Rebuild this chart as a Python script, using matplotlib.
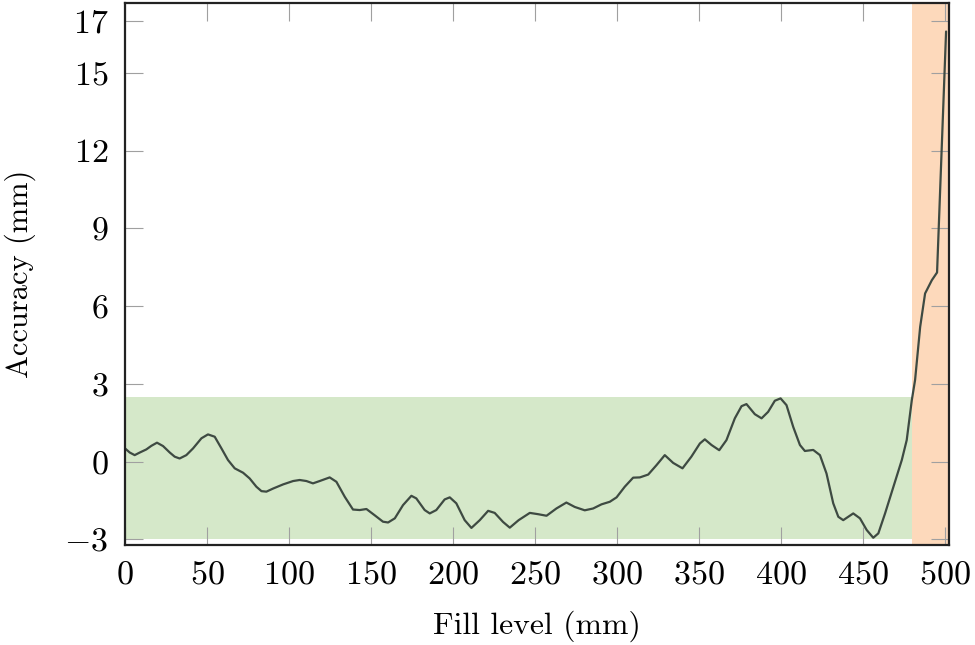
import matplotlib.pyplot as plt

plt.rcParams['font.family'] = 'serif'
plt.rcParams['font.serif'] = ['cmr10', 'DejaVu Serif']
plt.rcParams['mathtext.fontset'] = 'cm'
plt.rcParams['axes.formatter.use_mathtext'] = True

# accuracy curve
fill = [0, 2.9, 5.9, 9, 13, 16.1, 19.5, 23.2, 27.3, 30.3, 33.3, 37.4, 41.5, 46.6,
        50.6, 54.7, 58.8, 62.8, 66.9, 72, 76, 80.1, 83.2, 86.2, 90.3, 96.4, 102.5,
        106.5, 110.6, 114.6, 118.7, 124.8, 128.9, 134, 139, 143.1, 147.2, 152.2,
        157.3, 160.4, 164.5, 169.5, 174.6, 177.6, 182.7, 185.8, 189.8, 194.9, 198,
        202, 207.1, 211.2, 216.3, 221.4, 225.4, 230.5, 234.6, 240, 246.8, 251.9,
        257, 263, 269.1, 274.2, 280.3, 285.4, 290.5, 295.6, 299.7, 304.7, 309.8,
        313.9, 319, 324, 329.1, 334.2, 339.9, 345.3, 350.5, 353.5, 357.6, 362.3,
        366.7, 371.8, 375.9, 378.9, 384, 388.1, 392.1, 396.2, 399.7, 403.3, 407.4,
        411.5, 414.5, 419.6, 423.7, 427.7, 431.8, 434.9, 437.9, 444, 448.1, 452.2,
        456.2, 459.3, 463.4, 468.5, 473.6, 476.6, 479.7, 481.7, 484.8, 487.8,
        491.9, 495.1, 500.6]
accuracy = [0.51, 0.35, 0.25, 0.35, 0.47, 0.61, 0.73, 0.60, 0.35, 0.19, 0.12, 0.25,
            0.51, 0.90, 1.05, 0.96, 0.51, 0.06, -0.26, -0.43, -0.65, -0.97, -1.14,
            -1.16, -1.04, -0.88, -0.75, -0.71, -0.75, -0.84, -0.75, -0.61, -0.78,
            -1.36, -1.85, -1.87, -1.83, -2.07, -2.32, -2.35, -2.19, -1.68, -1.32,
            -1.42, -1.87, -2.00, -1.87, -1.46, -1.38, -1.61, -2.26, -2.56, -2.26,
            -1.90, -1.98, -2.33, -2.55, -2.26, -1.98, -2.03, -2.09, -1.81, -1.58,
            -1.75, -1.88, -1.81, -1.65, -1.55, -1.38, -0.97, -0.62, -0.61, -0.50,
            -0.14, 0.25, -0.05, -0.26, 0.19, 0.70, 0.86, 0.64, 0.44, 0.83, 1.67,
            2.14, 2.22, 1.83, 1.67, 1.92, 2.35, 2.44, 2.18, 1.34, 0.64, 0.41, 0.45,
            0.25, -0.46, -1.61, -2.13, -2.26, -2.00, -2.19, -2.64, -2.94, -2.77,
            -2.00, -0.97, 0.06, 0.83, 2.37, 3.15, 5.2, 6.49, 7.0, 7.3, 16.6]

# tolerance band and overflow region
tol_low, tol_high = -3, 2.5
overflow_start = 480
x_max = 502.3

xticks = [0, 50, 100, 150, 200, 250, 300, 350, 400, 450, 500]
yticks = [-3, 0, 3, 6, 9, 12, 15, 17]

fig = plt.figure(figsize=(9.75, 6.45), dpi=100)
ax = fig.add_axes([0.1282, 0.155, 0.845, 0.8403])

ax.fill_between([0, overflow_start], tol_low, tol_high, color='#d5e8c9', lw=0, zorder=1)
ax.axvspan(overflow_start, x_max, color='#fdd9bb', lw=0, zorder=1)
ax.plot(fill, accuracy, color='#3e4a42', lw=1.6, zorder=3,
        solid_joinstyle='round', solid_capstyle='round')

ax.set_xlim(0, x_max)
ax.set_ylim(-3.22, 17.7)
ax.set_xticks(xticks)
ax.set_yticks(yticks)

ax.tick_params(direction='in', length=13, width=0.8, color='#a0a0a0',
               top=True, right=True, labelsize=24.5)
ax.tick_params(axis='x', pad=11)
ax.tick_params(axis='y', pad=12)
for s in ax.spines.values():
    s.set_linewidth(1.6)
    s.set_color('#222222')
    s.set_zorder(5)

ax.set_xlabel('Fill level (mm)', fontsize=22.8)
ax.set_ylabel('Accuracy (mm)', fontsize=22)
ax.xaxis.set_label_coords(0.5, -0.12)
ax.yaxis.set_label_coords(-0.108, 0.5)

fig.savefig('out.png', dpi=100)
